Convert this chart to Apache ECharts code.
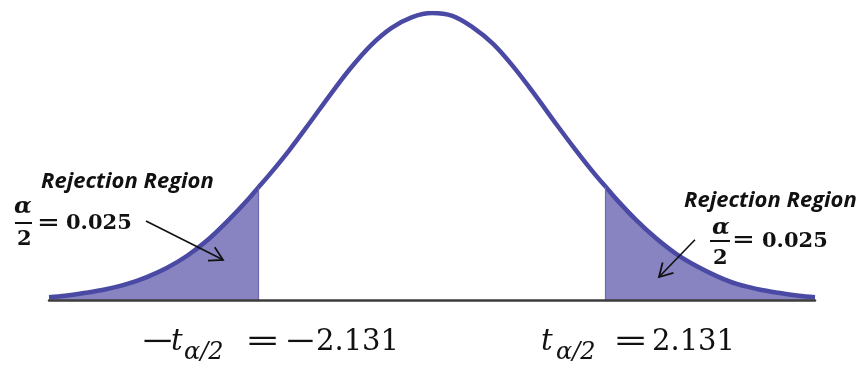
<!DOCTYPE html>
<html>
<head>
<meta charset="utf-8">
<script src="https://cdn.jsdelivr.net/npm/echarts@6/dist/echarts.min.js"></script>
<style>
html, body { margin: 0; padding: 0; background: #ffffff; }
#chart { width: 861px; height: 367px; }
</style>
</head>
<body>
<div id="chart"></div>
<script>
// Bell curve of the test statistic, sampled along t
const tValues = [-4.7, -4.5, -4.25, -4, -3.75, -3.5, -3.25, -3, -2.75, -2.5,
  -2.25, -2.131, -2, -1.75, -1.5, -1.25, -1, -0.75, -0.5, -0.25,
  0, 0.25, 0.5, 0.75, 1, 1.25, 1.5, 1.75, 2, 2.131,
  2.25, 2.5, 2.75, 3, 3.25, 3.5, 3.75, 4, 4.25, 4.5, 4.7];
const density = [0.004, 0.006, 0.010, 0.015, 0.022, 0.032, 0.045, 0.062, 0.084, 0.111,
  0.141, 0.157, 0.174, 0.209, 0.247, 0.286, 0.323, 0.355, 0.379, 0.394,
  0.400, 0.396, 0.380, 0.357, 0.325, 0.288, 0.249, 0.211, 0.175, 0.158,
  0.142, 0.112, 0.086, 0.064, 0.047, 0.033, 0.022, 0.015, 0.010, 0.006, 0.004];

// Critical value and tail probability
const criticalT = 2.131;
const alphaHalf = 0.025;

// Annotation arrows (tail -> tip), in (t, density) coordinates
const arrowTails = [[-3.51, 0.110], [3.227, 0.084]];
const arrowTips = [[-2.565, 0.056], [2.786, 0.032]];

const LINE_COLOR = '#4a49a3';
const FILL_COLOR = '#8884c1';
const EDGE_COLOR = '#6c68b2';
const SMOOTH = 0.35;

const curve = tValues.map((t, i) => [t, density[i]]);
const leftTail = curve.filter(p => p[0] <= -criticalT + 1e-9);
const rightTail = curve.filter(p => p[0] >= criticalT - 1e-9);
const cutDensity = t => curve.find(p => Math.abs(p[0] - t) < 1e-9)[1];

function tailSeries(data, cut) {
  return {
    type: 'line',
    data: data,
    smooth: SMOOTH,
    symbol: 'none',
    lineStyle: { width: 0, opacity: 0 },
    areaStyle: { color: FILL_COLOR, opacity: 1 },
    z: 1,
    silent: true,
    markLine: {
      silent: true,
      symbol: ['none', 'none'],
      label: { show: false },
      lineStyle: { color: EDGE_COLOR, width: 1.2, type: 'solid' },
      data: [[{ coord: [cut, 0] }, { coord: [cut, cutDensity(cut)] }]]
    }
  };
}

const chart = echarts.init(document.getElementById('chart'), null, { renderer: 'canvas' });

chart.setOption({
  animation: false,
  backgroundColor: '#ffffff',
  grid: { left: 49, right: 46, top: 13, bottom: 67 },
  xAxis: {
    type: 'value',
    min: -4.7,
    max: 4.7,
    z: 10,
    axisLine: { show: true, onZero: false, lineStyle: { color: '#3d3d3d', width: 2.5 } },
    axisTick: { show: false },
    axisLabel: { show: false },
    splitLine: { show: false }
  },
  yAxis: { type: 'value', min: 0, max: 0.4, show: false },
  series: [
    tailSeries(leftTail, -criticalT),
    tailSeries(rightTail, criticalT),
    {
      type: 'line',
      data: curve,
      smooth: SMOOTH,
      symbol: 'none',
      silent: true,
      lineStyle: { color: LINE_COLOR, width: 4.5, cap: 'butt' },
      z: 3
    }
  ]
});

// ---- annotations ----
function txt(text, x, y, font, extra) {
  return Object.assign({
    type: 'text',
    silent: true,
    x: x,
    y: y,
    z: 20,
    style: {
      text: text,
      x: 0,
      y: 0,
      font: font,
      fill: '#111111',
      align: 'left',
      textAlign: 'left',
      verticalAlign: 'middle',
      textVerticalAlign: 'middle'
    }
  }, extra || {});
}

function seg(x1, y1, x2, y2, w) {
  return {
    type: 'line', silent: true, z: 20,
    shape: { x1: x1, y1: y1, x2: x2, y2: y2 },
    style: { stroke: '#111111', lineWidth: w }
  };
}

function arrow(tail, tip) {
  const p0 = chart.convertToPixel({ gridIndex: 0 }, tail);
  const p1 = chart.convertToPixel({ gridIndex: 0 }, tip);
  const dx = p1[0] - p0[0], dy = p1[1] - p0[1];
  const len = Math.hypot(dx, dy);
  const ux = dx / len, uy = dy / len;
  const arm = 15, ang = 30 * Math.PI / 180;
  const rot = a => [ux * Math.cos(a) - uy * Math.sin(a), ux * Math.sin(a) + uy * Math.cos(a)];
  const r1 = rot(ang), r2 = rot(-ang);
  return [
    seg(p0[0], p0[1], p1[0], p1[1], 1.6),
    {
      type: 'polyline', silent: true, z: 20,
      shape: { points: [[p1[0] - r1[0] * arm, p1[1] - r1[1] * arm], p1, [p1[0] - r2[0] * arm, p1[1] - r2[1] * arm]] },
      style: { stroke: '#111111', lineWidth: 1.8, fill: null }
    }
  ];
}

const labelFont = 'italic bold 22px "Open Sans"';
const mathBig = '29px "DejaVu Serif"';
const mathBigIt = 'italic 29px "DejaVu Serif"';
const mathSubIt = 'italic 24px "DejaVu Serif"';
const alphaFont = 'italic bold 23px "DejaVu Serif"';
const fracFont = 'bold 21px "DejaVu Serif"';
const valFont = 'bold 21px "DejaVu Serif"';
const pText = alphaHalf.toFixed(3);
const cText = criticalT.toFixed(3);

const graphics = [
  // left tail note
  txt('Rejection Region', 41, 182, labelFont),
  txt('α', 14, 207, alphaFont),
  seg(15, 223, 32, 223, 2),
  txt('2', 17, 240, fracFont),
  txt('=', 37, 224, valFont, { scaleX: 1.3 }),
  txt(pText, 66, 224, valFont),
  // right tail note
  txt('Rejection Region', 684, 201, labelFont),
  txt('α', 712, 228, alphaFont),
  seg(710, 241, 730, 241, 2),
  txt('2', 713, 259, fracFont),
  txt('=', 732, 241, valFont, { scaleX: 1.3 }),
  txt(pText, 762, 242, valFont),
  // critical value labels
  txt('−', 140, 342, mathBig, { scaleX: 1.45 }),
  txt('t', 171, 342, mathBigIt),
  txt('α/2', 184, 353, mathSubIt),
  txt('=', 245, 342, mathBig, { scaleX: 1.45 }),
  txt('−', 284, 342, mathBig, { scaleX: 1.35 }),
  txt(cText, 316, 342, mathBig),
  txt('t', 541, 342, mathBigIt),
  txt('α/2', 556, 353, mathSubIt),
  txt('=', 613, 342, mathBig, { scaleX: 1.45 }),
  txt(cText, 652, 342, mathBig)
];

for (let i = 0; i < arrowTails.length; i++) {
  graphics.push.apply(graphics, arrow(arrowTails[i], arrowTips[i]));
}

chart.setOption({ graphic: graphics });
</script>
</body>
</html>
